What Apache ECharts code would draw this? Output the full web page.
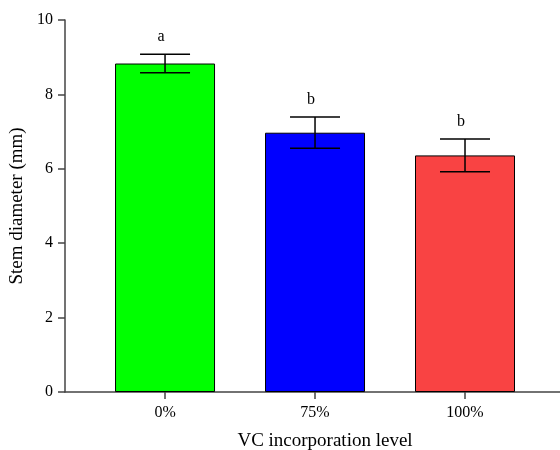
<!DOCTYPE html>
<html>
<head>
<meta charset="utf-8">
<script src="https://cdn.jsdelivr.net/npm/echarts@6/dist/echarts.min.js"></script>
<style>
  html, body { margin: 0; padding: 0; background: #fff; }
  #chart { width: 560px; height: 450px; }
</style>
</head>
<body>
<div id="chart"></div>
<script>
  // data
  var categories = ['0%', '75%', '100%'];
  var means = [8.83, 6.97, 6.36];
  var errors = [0.25, 0.42, 0.44];
  var letters = ['a', 'b', 'b'];
  var barColors = ['#00ff00', '#0000ff', '#f94343'];
  var yTicks = [0, 2, 4, 6, 8, 10];

  var font = '"Liberation Serif", "Times New Roman", serif';

  var chart = echarts.init(document.getElementById('chart'));

  var barData = means.map(function (v, i) {
    return { value: [i, v], itemStyle: { color: barColors[i] } };
  });
  var errData = means.map(function (v, i) {
    return [i, v - errors[i], v + errors[i], letters[i]];
  });

  chart.setOption({
    animation: false,
    grid: { left: 65, right: -25, top: 20, bottom: 58, outerBoundsMode: 'none' },
    xAxis: {
      type: 'value',
      min: -0.667,
      max: 2.8,
      splitLine: { show: false },
      axisLine: { onZero: false, lineStyle: { color: '#444', width: 1.5 } },
      axisTick: { show: true, customValues: [0, 1, 2], length: 7, lineStyle: { color: '#444', width: 1.5 } },
      axisLabel: {
        customValues: [0, 1, 2],
        formatter: function (v) { return categories[Math.round(v)]; },
        color: '#000', fontFamily: font, fontSize: 16, margin: 13
      },
      name: 'VC incorporation level',
      nameLocation: 'middle',
      nameGap: 40,
      nameTextStyle: { color: '#000', fontFamily: font, fontSize: 19 }
    },
    yAxis: {
      type: 'value',
      min: yTicks[0],
      max: yTicks[yTicks.length - 1],
      interval: 2,
      splitLine: { show: false },
      axisLine: { show: true, onZero: false, lineStyle: { color: '#444', width: 1.5 } },
      axisTick: { show: true, length: 7, lineStyle: { color: '#444', width: 1.5 } },
      axisLabel: { color: '#000', fontFamily: font, fontSize: 16, margin: 12 },
      name: 'Stem diameter (mm)',
      nameLocation: 'middle',
      nameGap: 33,
      nameTextStyle: { color: '#000', fontFamily: font, fontSize: 19 }
    },
    series: [
      {
        type: 'bar',
        barWidth: 100,
        data: barData,
        itemStyle: { borderColor: '#000', borderWidth: 1 }
      },
      {
        type: 'custom',
        data: errData,
        z: 10,
        renderItem: function (params, api) {
          var x = api.value(0);
          var lo = api.coord([x, api.value(1)]);
          var hi = api.coord([x, api.value(2)]);
          var half = 25;
          var style = { stroke: '#000', lineWidth: 1.5 };
          return {
            type: 'group',
            children: [
              { type: 'line', shape: { x1: lo[0], y1: lo[1], x2: hi[0], y2: hi[1] }, style: style },
              { type: 'line', shape: { x1: hi[0] - half, y1: hi[1], x2: hi[0] + half, y2: hi[1] }, style: style },
              { type: 'line', shape: { x1: lo[0] - half, y1: lo[1], x2: lo[0] + half, y2: lo[1] }, style: style },
              {
                type: 'text',
                style: {
                  x: hi[0] - 4, y: hi[1] - 17,
                  text: errData[params.dataIndex][3],
                  fill: '#000', font: '16px ' + font,
                  align: 'center', verticalAlign: 'middle'
                }
              }
            ]
          };
        }
      }
    ]
  });
</script>
</body>
</html>
